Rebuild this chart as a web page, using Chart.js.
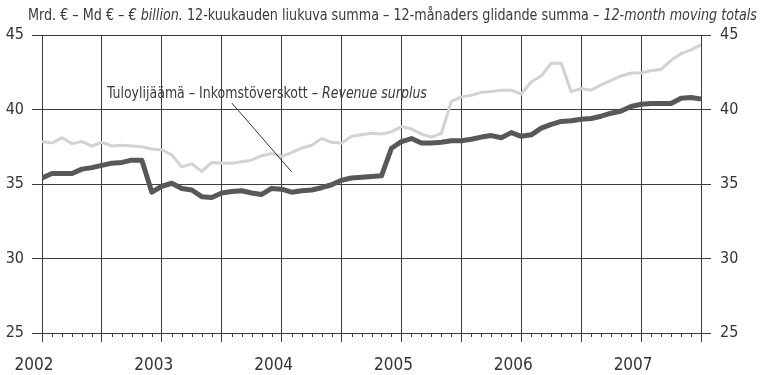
<!DOCTYPE html>
<html>
<head>
<meta charset="utf-8">
<script src="https://cdn.jsdelivr.net/npm/chart.js@4.4.1/dist/chart.umd.min.js"></script>
<style>
  html, body { margin: 0; padding: 0; background: #fff; }
  #wrap { width: 763px; height: 375px; }
</style>
</head>
<body>
<div id="wrap"><canvas id="chart"></canvas></div>
<script>
// Monthly 12-month moving totals, Jan 2002 .. Jul 2007 (EUR billion)
const yearLabels = ["2002", "2003", "2004", "2005", "2006", "2007"];
const yTicks = [25, 30, 35, 40, 45];

const darkSeries = [
  35.4, 35.7, 35.7, 35.7, 36.0, 36.1, 36.25, 36.4, 36.45, 36.6, 36.6, 34.45,
  34.85, 35.05, 34.7, 34.6, 34.15, 34.1, 34.4, 34.5, 34.55, 34.4, 34.3, 34.7,
  34.65, 34.45, 34.55, 34.6, 34.75, 34.95, 35.25, 35.4, 35.45, 35.5, 35.55, 37.4,
  37.85, 38.05, 37.75, 37.75, 37.8, 37.9, 37.9, 38.0, 38.15, 38.25, 38.1, 38.45,
  38.2, 38.3, 38.75, 39.0, 39.2, 39.25, 39.35, 39.4, 39.55, 39.75, 39.9, 40.2,
  40.35, 40.4, 40.4, 40.4, 40.75, 40.8, 40.7
];

const lightSeries = [
  37.85, 37.75, 38.1, 37.7, 37.85, 37.55, 37.8, 37.55, 37.6, 37.55, 37.5, 37.35,
  37.3, 36.95, 36.15, 36.35, 35.85, 36.45, 36.4, 36.4, 36.5, 36.6, 36.9, 37.05,
  36.85, 37.1, 37.4, 37.6, 38.05, 37.8, 37.75, 38.2, 38.3, 38.4, 38.35, 38.5,
  38.85, 38.7, 38.35, 38.15, 38.4, 40.55, 40.85, 40.95, 41.15, 41.2, 41.3, 41.3,
  41.05, 41.85, 42.25, 43.1, 43.1, 41.2, 41.4, 41.3, 41.65, 41.95, 42.25, 42.45,
  42.45, 42.6, 42.7, 43.3, 43.75, 44.0, 44.35
];

const titleRuns = [
  { text: "Mrd. € – Md € – ", italic: false },
  { text: "€ billion.", italic: true },
  { text: " 12-kuukauden liukuva summa – 12-månaders glidande summa – ", italic: false },
  { text: "12-month moving totals", italic: true },
];
const noteRuns = [
  { text: "Tuloylijäämä – Inkomstöverskott – ", italic: false },
  { text: "Revenue surplus", italic: true },
];

const FONT = '"Liberation Sans Narrow", "DejaVu Sans Condensed", "Roboto Condensed", sans-serif';
const GRID = "#3c3c3c";
const lastMonth = darkSeries.length - 1;

Chart.defaults.font.family = FONT;
Chart.defaults.color = "#333";

function toPoints(values) {
  return values.map((v, i) => ({ x: i, y: v }));
}

// draws a line of mixed normal/italic text, squeezed to a given width
function drawRuns(ctx, runs, x, y, size, width) {
  ctx.save();
  let total = 0;
  runs.forEach((r) => {
    ctx.font = (r.italic ? "italic " : "") + size + "px " + FONT;
    r.w = ctx.measureText(r.text).width;
    total += r.w;
  });
  const k = width ? width / total : 1;
  ctx.translate(x, y);
  ctx.scale(k, 1);
  ctx.textBaseline = "alphabetic";
  ctx.fillStyle = "#3a3a3a";
  let cx = 0;
  runs.forEach((r) => {
    ctx.font = (r.italic ? "italic " : "") + size + "px " + FONT;
    ctx.fillText(r.text, cx, 0);
    cx += r.w;
  });
  ctx.restore();
}

const decorations = {
  id: "decorations",
  afterDraw(chart) {
    const { ctx, scales } = chart;
    const xs = scales.x, ys = scales.y;
    const bottom = chart.chartArea.bottom;

    // minor month ticks below the axis
    ctx.save();
    ctx.strokeStyle = GRID;
    ctx.lineWidth = 1;
    ctx.beginPath();
    for (let m = 0; m <= lastMonth; m++) {
      if (m % 6 === 0) continue;
      const px = Math.round(xs.getPixelForValue(m)) + 0.5;
      ctx.moveTo(px, bottom);
      ctx.lineTo(px, bottom + 4);
    }
    ctx.stroke();

    // leader line for the series note
    ctx.strokeStyle = "#333";
    ctx.beginPath();
    ctx.moveTo(xs.getPixelForValue(19), ys.getPixelForValue(40.44));
    ctx.lineTo(xs.getPixelForValue(25), ys.getPixelForValue(35.82));
    ctx.stroke();
    ctx.restore();

    drawRuns(ctx, noteRuns, xs.getPixelForValue(6.5), ys.getPixelForValue(40.8), 15, 320);
    drawRuns(ctx, titleRuns, 28, 20, 15, 729);
  },
};

const ctx = document.getElementById("chart").getContext("2d");
new Chart(ctx, {
  type: "line",
  data: {
    datasets: [
      {
        data: toPoints(darkSeries),
        borderColor: "#585858",
        borderWidth: 5,
        pointRadius: 0,
        tension: 0,
        borderJoinStyle: "round",
      },
      {
        data: toPoints(lightSeries),
        borderColor: "#d2d2d2",
        borderWidth: 3,
        pointRadius: 0,
        tension: 0,
      },
    ],
  },
  options: {
    responsive: true,
    maintainAspectRatio: false,
    animation: false,
    layout: { padding: { top: 35, left: 0, right: 0, bottom: 0 } },
    plugins: { legend: { display: false }, tooltip: { enabled: false } },
    scales: {
      x: {
        type: "linear",
        min: 0,
        max: lastMonth,
        afterFit: (s) => { s.height = 42; },
        grid: { color: GRID, tickColor: GRID, tickLength: 9, lineWidth: 1 },
        border: { color: GRID },
        ticks: {
          stepSize: 6,
          autoSkip: false,
          maxRotation: 0,
          padding: 13,
          labelOffset: -8,
          font: { size: 17 },
          callback: (v) => (v % 12 === 0 ? yearLabels[v / 12] : ""),
        },
      },
      y: {
        position: "left",
        min: yTicks[0],
        max: yTicks[yTicks.length - 1],
        afterFit: (s) => { s.width = 42; },
        grid: { color: GRID, tickColor: GRID, tickLength: 10 },
        border: { color: GRID },
        ticks: { stepSize: 5, padding: 8, font: { size: 16 } },
      },
      y2: {
        position: "right",
        min: yTicks[0],
        max: yTicks[yTicks.length - 1],
        afterFit: (s) => { s.width = 62; },
        grid: { drawOnChartArea: false, tickColor: GRID, tickLength: 10 },
        border: { color: GRID },
        ticks: { stepSize: 5, padding: 9, font: { size: 16 } },
      },
    },
  },
  plugins: [decorations],
});
</script>
</body>
</html>
